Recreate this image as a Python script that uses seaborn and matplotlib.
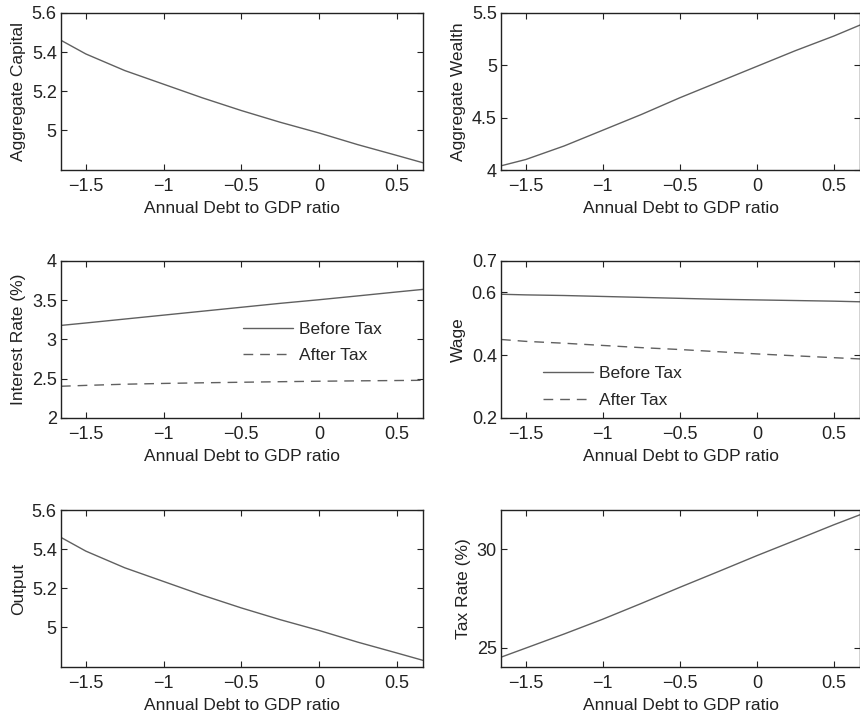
import numpy as np
import pandas as pd
import matplotlib
matplotlib.use("Agg")
import matplotlib.pyplot as plt
import seaborn as sns

sns.set_theme(style="white")
plt.rcParams['font.family'] = ['Liberation Sans', 'DejaVu Sans']

# ---- data ----
debt = [-1.66, -1.5, -1.25, -1.0, -0.75, -0.5, -0.25, 0.0, 0.25, 0.5, 0.67]
capital = [5.46, 5.39, 5.305, 5.235, 5.165, 5.10, 5.04, 4.985, 4.925, 4.87, 4.832]
wealth = [4.04, 4.10, 4.23, 4.38, 4.53, 4.69, 4.84, 4.99, 5.14, 5.28, 5.385]
r_before = [3.179, 3.21, 3.26, 3.31, 3.36, 3.41, 3.46, 3.506, 3.555, 3.605, 3.638]
r_after = [2.404, 2.415, 2.43, 2.44, 2.448, 2.455, 2.462, 2.468, 2.473, 2.477, 2.48]
w_before = [0.594, 0.592, 0.590, 0.587, 0.584, 0.581, 0.578, 0.576, 0.574, 0.572, 0.570]
w_after = [0.450, 0.444, 0.438, 0.431, 0.424, 0.418, 0.411, 0.404, 0.398, 0.392, 0.388]
output = [5.46, 5.39, 5.305, 5.235, 5.165, 5.10, 5.04, 4.985, 4.925, 4.87, 4.832]
tax = [24.52, 24.98, 25.70, 26.45, 27.25, 28.07, 28.87, 29.68, 30.46, 31.25, 31.76]

xticks = [-1.5, -1, -0.5, 0, 0.5]
xticklabels = ["\u22121.5", "\u22121", "\u22120.5", "0", "0.5"]
xlabel = "Annual Debt to GDP ratio"

LINE = "#606060"
FS = 13
LFS = 12.5

fig = plt.figure(figsize=(8.6, 7.14), dpi=100)
W_L, W_R = 0.421, 0.4175
X_L, X_R = 0.0709, 0.5826
rows_b = [0.7619, 0.4146, 0.0658]
H = 0.2199

def make_ax(x, w, b):
    ax = fig.add_axes([x, b, w, H])
    for s in ax.spines.values():
        s.set_color("#222222")
        s.set_linewidth(1.0)
        s.set_visible(True)
    ax.tick_params(direction="in", length=4, width=0.8, top=True, right=True,
                   labelsize=FS, colors="#222222", pad=3,
                   bottom=True, left=True)
    ax.tick_params(axis="x", pad=6)
    ax.set_xlim(-1.66, 0.67)
    ax.set_xticks(xticks)
    ax.set_xticklabels(xticklabels)
    ax.grid(False)
    return ax

def labels(ax, ylab):
    ax.set_ylabel(ylab, fontsize=LFS, color="#222222", labelpad=4)
    ax.set_xlabel(xlabel, fontsize=LFS, color="#222222", labelpad=4.2)

df = pd.DataFrame({"debt": debt, "capital": capital, "wealth": wealth,
                   "r_before": r_before, "r_after": r_after,
                   "w_before": w_before, "w_after": w_after,
                   "output": output, "tax": tax})

DASH = (0, (7, 5))
leg_kw = dict(loc="upper left", frameon=False, fontsize=LFS, handlelength=2.9,
              handletextpad=0.3, borderpad=0, borderaxespad=0, labelspacing=0.66)

# Panel 1: Aggregate Capital
ax1 = make_ax(X_L, W_L, rows_b[0])
sns.lineplot(data=df, x="debt", y="capital", ax=ax1, color=LINE, linewidth=1.0)
ax1.set_ylim(4.795, 5.6)
ax1.set_yticks([5, 5.2, 5.4, 5.6])
ax1.set_yticklabels(["5", "5.2", "5.4", "5.6"])
labels(ax1, "Aggregate Capital")

# Panel 2: Aggregate Wealth
ax2 = make_ax(X_R, W_R, rows_b[0])
sns.lineplot(data=df, x="debt", y="wealth", ax=ax2, color=LINE, linewidth=1.0)
ax2.set_ylim(4, 5.5)
ax2.set_yticks([4, 4.5, 5, 5.5])
ax2.set_yticklabels(["4", "4.5", "5", "5.5"])
labels(ax2, "Aggregate Wealth")

# Panel 3: Interest rate
ax3 = make_ax(X_L, W_L, rows_b[1])
sns.lineplot(data=df, x="debt", y="r_before", ax=ax3, color=LINE, linewidth=1.0,
             label="Before Tax")
sns.lineplot(data=df, x="debt", y="r_after", ax=ax3, color=LINE, linewidth=1.0,
             linestyle=DASH, label="After Tax")
ax3.set_ylim(2, 4)
ax3.set_yticks([2, 2.5, 3, 3.5, 4])
ax3.set_yticklabels(["2", "2.5", "3", "3.5", "4"])
labels(ax3, "Interest Rate (%)")
ax3.legend(bbox_to_anchor=(0.503, 0.614), **leg_kw)

# Panel 4: Wage
ax4 = make_ax(X_R, W_R, rows_b[1])
sns.lineplot(data=df, x="debt", y="w_before", ax=ax4, color=LINE, linewidth=1.0,
             label="Before Tax")
sns.lineplot(data=df, x="debt", y="w_after", ax=ax4, color=LINE, linewidth=1.0,
             linestyle=DASH, label="After Tax")
ax4.set_ylim(0.2, 0.7)
ax4.set_yticks([0.2, 0.4, 0.6, 0.7])
ax4.set_yticklabels(["0.2", "0.4", "0.6", "0.7"])
labels(ax4, "Wage")
ax4.legend(bbox_to_anchor=(0.117, 0.332), **leg_kw)

# Panel 5: Output
ax5 = make_ax(X_L, W_L, rows_b[2])
sns.lineplot(data=df, x="debt", y="output", ax=ax5, color=LINE, linewidth=1.0)
ax5.set_ylim(4.798, 5.6)
ax5.set_yticks([5, 5.2, 5.4, 5.6])
ax5.set_yticklabels(["5", "5.2", "5.4", "5.6"])
labels(ax5, "Output")

# Panel 6: Tax rate
ax6 = make_ax(X_R, W_R, rows_b[2])
sns.lineplot(data=df, x="debt", y="tax", ax=ax6, color=LINE, linewidth=1.0)
ax6.set_ylim(24.02, 32.0)
ax6.set_yticks([25, 30])
ax6.set_yticklabels(["25", "30"])
labels(ax6, "Tax Rate (%)")

fig.savefig("out.png", dpi=100, facecolor="white")
